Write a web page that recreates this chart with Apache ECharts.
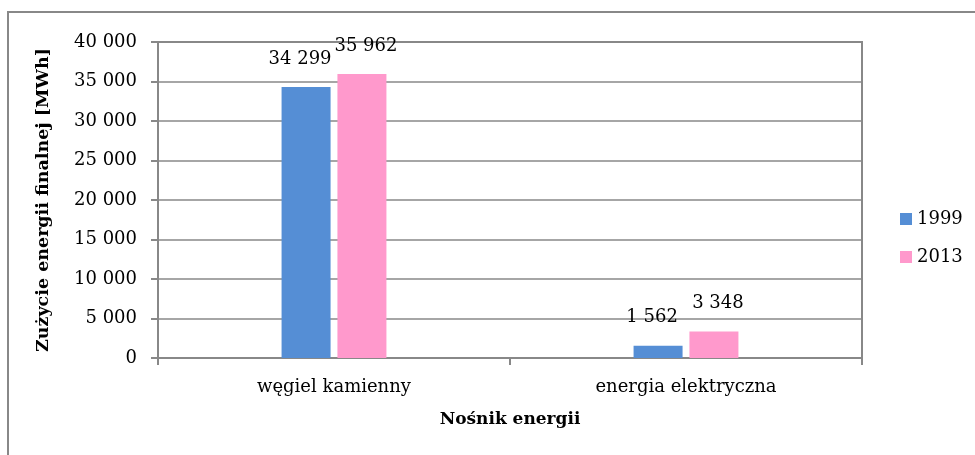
<!DOCTYPE html>
<html>
<head>
<meta charset="utf-8">
<script src="https://cdn.jsdelivr.net/npm/echarts@6/dist/echarts.min.js"></script>
<style>
  html, body { margin: 0; padding: 0; background: #fff; }
  #chart { width: 975px; height: 455px; }
</style>
</head>
<body>
<div id="chart"></div>
<script>
// Final energy consumption by carrier, 1999 vs 2013
const categories = ['węgiel kamienny', 'energia elektryczna'];
const years = ['1999', '2013'];
const values1999 = [34299, 1562];
const values2013 = [35962, 3348];
const colors = ['#558ED5', '#FF99CC'];

const FONT = 'DejaVu Serif';
const GRAY = '#888888';

// thousands separated by a space, e.g. 35 962
function fmt(v) {
  return String(v).replace(/\B(?=(\d{3})+(?!\d))/g, ' ');
}

function valueLabel(dx) {
  return {
    show: true,
    position: 'top',
    distance: 19,
    offset: [dx, 0],
    color: '#000',
    fontFamily: FONT,
    fontSize: 18,
    formatter: p => fmt(p.value)
  };
}

const chart = echarts.init(document.getElementById('chart'), null, { renderer: 'canvas' });
chart.setOption({
  animation: false,
  backgroundColor: '#fff',
  graphic: [{
    type: 'rect',
    shape: { x: 8, y: 12, width: 1000, height: 500 },
    style: { fill: 'none', stroke: GRAY, lineWidth: 2 },
    silent: true
  }],
  grid: {
    left: 158, top: 42, width: 704, height: 316,
    show: true, borderColor: GRAY, borderWidth: 2, backgroundColor: 'transparent'
  },
  legend: {
    orient: 'vertical',
    left: 895,
    top: 205,
    itemWidth: 12,
    itemHeight: 12,
    itemGap: 20,
    icon: 'rect',
    textStyle: { fontFamily: FONT, fontSize: 18, color: '#000' },
    data: years
  },
  xAxis: {
    type: 'category',
    data: categories,
    name: 'Nośnik energii',
    nameLocation: 'middle',
    nameGap: 53,
    nameTextStyle: { fontFamily: FONT, fontSize: 17, fontWeight: 'bold', color: '#000' },
    axisLine: { lineStyle: { color: GRAY, width: 2 } },
    axisTick: { show: true, length: 7, lineStyle: { color: GRAY, width: 2 } },
    axisLabel: { margin: 20, fontFamily: FONT, fontSize: 18, color: '#000' }
  },
  yAxis: {
    type: 'value',
    min: 0,
    max: 40000,
    interval: 5000,
    name: 'Zużycie energii finalnej [MWh]',
    nameLocation: 'middle',
    nameGap: 106,
    nameTextStyle: { fontFamily: FONT, fontSize: 17.5, fontWeight: 'bold', color: '#000' },
    axisLine: { show: true, lineStyle: { color: GRAY, width: 2 } },
    axisTick: { show: true, length: 7, lineStyle: { color: GRAY, width: 2 } },
    axisLabel: { margin: 21, fontFamily: FONT, fontSize: 18, color: '#000', formatter: v => fmt(v) },
    splitLine: { lineStyle: { color: GRAY, width: 1.5 } }
  },
  series: [
    {
      name: years[0], type: 'bar', data: values1999, barWidth: 49, barGap: '14%',
      itemStyle: { color: colors[0] }, label: valueLabel(-6)
    },
    {
      name: years[1], type: 'bar', data: values2013, barWidth: 49, barGap: '14%',
      itemStyle: { color: colors[1] }, label: valueLabel(4)
    }
  ]
});
</script>
</body>
</html>
